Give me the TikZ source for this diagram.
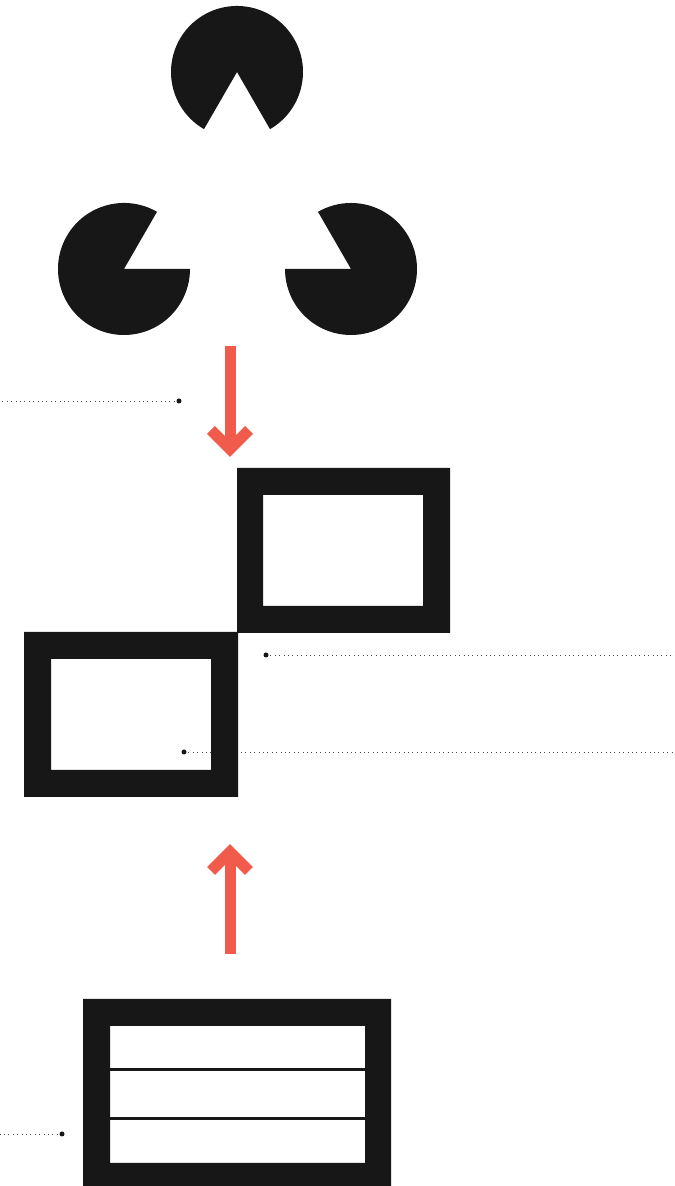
\documentclass[tikz,border=0pt]{standalone}
\usetikzlibrary{calc}
\definecolor{ink}{HTML}{171717}
\definecolor{coral}{HTML}{F05B4B}
\definecolor{lead}{HTML}{4A4A4A}

\tikzset{
  pacman/.style={fill=ink},
  frame/.style={fill=ink,even odd rule},
  flow/.style={coral,line width=0.22cm},
  head/.style={coral,line width=0.22cm,line join=miter,miter limit=4},
  leader/.style={lead,line width=0.5pt,dotted},
  tagdot/.style={fill=ink}
}

\begin{document}
\begin{tikzpicture}[x=0.02cm,y=0.02cm]
  \useasboundingbox (0,0) rectangle (675,1186);

  % illusory triangle
  \foreach \cx/\cy/\a in {237/1114/-60,124/917/60,351/917/180}{
    \fill[pacman] (\cx,\cy) -- ++(\a:66) arc[start angle=\a,delta angle=300,radius=66] -- cycle;
  }

  % arrows
  \coordinate (dtop) at (230,840);
  \coordinate (dtip) at (230,737);
  \coordinate (ubot) at (230,232);
  \coordinate (utip) at (230,334);
  \draw[flow] (dtop) -- (dtip);
  \draw[head] ($(dtip)+(-19,19)$) -- (dtip) -- ($(dtip)+(19,19)$);
  \draw[flow] (ubot) -- (utip);
  \draw[head] ($(utip)+(-19,-19)$) -- (utip) -- ($(utip)+(19,-19)$);

  % leaders
  \coordinate (tagA) at (179,785);  \coordinate (tagAend) at (0,785);
  \coordinate (tagB) at (266,531);  \coordinate (tagBend) at (675,531);
  \coordinate (tagC) at (184,434);  \coordinate (tagCend) at (675,434);
  \coordinate (tagD) at (62,52);    \coordinate (tagDend) at (0,52);
  \foreach \t in {tagA,tagB,tagC,tagD}{
    \draw[leader] (\t) -- (\t end);
    \fill[tagdot] (\t) circle[radius=2.5];
  }

  % frames
  \fill[frame] (237,553) rectangle (450,718) (263,580) rectangle (423,691);
  \fill[frame] (24,389) rectangle (238,554) (51,416) rectangle (211,527);
  \fill[frame] (83,0) rectangle (391,187) (110,23) rectangle (365,160);
  \foreach \y in {116,67}{
    \draw[ink,line width=0.06cm] (110,\y) -- (365,\y);
  }
\end{tikzpicture}
\end{document}
